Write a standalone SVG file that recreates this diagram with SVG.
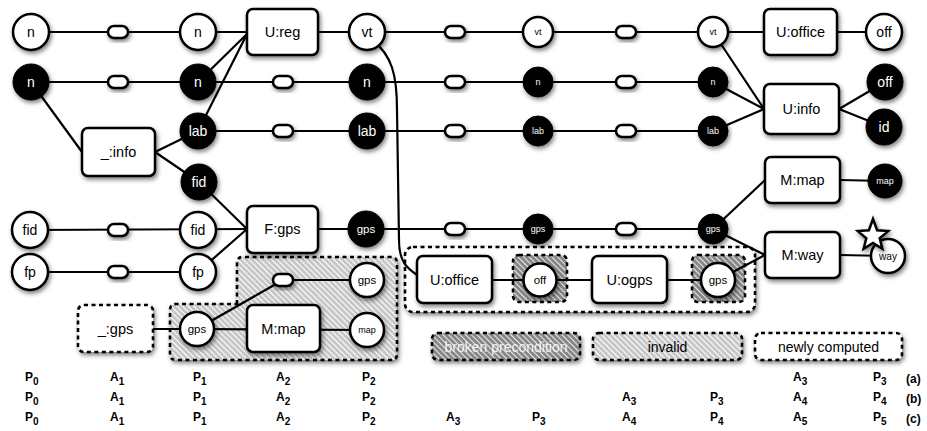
<svg xmlns="http://www.w3.org/2000/svg" width="927" height="431" viewBox="0 0 927 431">
<style>
.ln{stroke:#000;stroke-width:2.2;fill:none}
.box{fill:#fff;stroke:#000;stroke-width:2.5}
.cw{fill:#fff;stroke:#000;stroke-width:2.5}
.cb{fill:#000;stroke:#000;stroke-width:1}
.pill{fill:#fff;stroke:#000;stroke-width:2.5}
.sh{filter:url(#sh)}
.dash{stroke:#000;stroke-width:2.6;stroke-dasharray:4 3.5}
text{font-family:"Liberation Sans",Arial,Helvetica,sans-serif;text-anchor:middle;dominant-baseline:central;fill:#000}
.w{fill:#fff}
.b14{font-size:14.5px}
.lg{font-size:14px}
.c13{font-size:14px}
.c11{font-size:11.5px}
.c9{font-size:9px}
.tb{font-weight:bold;font-size:12px;text-anchor:start;dominant-baseline:alphabetic}
.sub{font-size:10px}
</style>
<defs>
<filter id="sh" x="-30%" y="-30%" width="170%" height="170%">
<feDropShadow dx="1.5" dy="2.5" stdDeviation="2.2" flood-color="#000" flood-opacity="0.5"/>
</filter>
<pattern id="hl" patternUnits="userSpaceOnUse" width="4" height="4" patternTransform="rotate(-45)">
<rect width="4" height="4" fill="#c6c6c6"/>
<rect width="1.1" height="4" fill="#fff"/>
</pattern>
<pattern id="hd" patternUnits="userSpaceOnUse" width="4" height="4" patternTransform="rotate(-45)">
<rect width="4" height="4" fill="#858585"/>
<rect width="1.1" height="4" fill="#e8e8e8"/>
</pattern>
</defs>
<rect width="927" height="431" fill="#fff"/>

<g id="regions">
<path id="invalid-region" class="dash sh" fill="url(#hl)" d="M237,304 V263 Q237,257 243,257 H391 Q397,257 397,263 V354 Q397,360 391,360 H176 Q170,360 170,354 V310 Q170,304 176,304 Z"/>
<rect id="new-group" class="dash sh" x="405" y="247" width="350" height="65" rx="8" fill="#fff"/>
<rect id="broken-off" class="dash" x="513" y="255" width="54" height="47" rx="6" fill="url(#hd)"/>
<rect id="broken-gps" class="dash" x="692" y="255" width="53" height="47" rx="6" fill="url(#hd)"/>
</g>

<g id="connectors">
<line class="ln" x1="31" y1="32" x2="198" y2="32"/>
<line class="ln" x1="198" y1="32" x2="247" y2="32"/>
<line class="ln" x1="198" y1="82" x2="247" y2="34"/>
<line class="ln" x1="198" y1="131" x2="247" y2="34"/>
<line class="ln" x1="318" y1="32" x2="838" y2="32"/>
<line class="ln" x1="838" y1="32" x2="884" y2="32"/>
<line class="ln" x1="713" y1="32" x2="764" y2="109"/>
<line class="ln" x1="713" y1="82" x2="764" y2="109"/>
<line class="ln" x1="713" y1="131" x2="764" y2="109"/>
<line class="ln" x1="839" y1="109" x2="885" y2="82"/>
<line class="ln" x1="839" y1="109" x2="884" y2="127"/>
<line class="ln" x1="31" y1="82" x2="713" y2="82"/>
<line class="ln" x1="31" y1="82" x2="82" y2="152"/>
<line class="ln" x1="155" y1="152" x2="198" y2="131"/>
<line class="ln" x1="155" y1="152" x2="199" y2="182"/>
<line class="ln" x1="198" y1="131" x2="713" y2="131"/>
<line class="ln" x1="199" y1="182" x2="247" y2="229"/>
<line class="ln" x1="30" y1="230" x2="247" y2="229"/>
<line class="ln" x1="30" y1="272" x2="198" y2="272"/>
<line class="ln" x1="198" y1="272" x2="247" y2="229"/>
<line class="ln" x1="318" y1="229" x2="713" y2="229"/>
<line class="ln" x1="713" y1="229" x2="765" y2="180"/>
<line class="ln" x1="713" y1="229" x2="765" y2="255"/>
<line class="ln" x1="840" y1="180" x2="885" y2="181"/>
<line class="ln" x1="840" y1="255" x2="888" y2="256"/>
<path class="ln" d="M372,40 C392,55 397,75 397,110 L399,240 C399,262 407,268 417,275"/>
<line class="ln" x1="153" y1="329" x2="197" y2="329"/>
<line class="ln" x1="197" y1="329" x2="283" y2="280"/>
<line class="ln" x1="283" y1="280" x2="367" y2="280"/>
<line class="ln" x1="197" y1="329" x2="367" y2="330"/>
<line class="ln" x1="492" y1="280" x2="592" y2="280"/>
<line class="ln" x1="667" y1="280" x2="718" y2="280"/>
<line class="ln" x1="718" y1="280" x2="765" y2="255"/>
</g>

<g id="pills">
<rect class="pill sh" x="108" y="26" width="20" height="12" rx="6"/>
<rect class="pill sh" x="445" y="26" width="20" height="12" rx="6"/>
<rect class="pill sh" x="616" y="26" width="20" height="12" rx="6"/>
<rect class="pill sh" x="108" y="76" width="20" height="12" rx="6"/>
<rect class="pill sh" x="273" y="76" width="20" height="12" rx="6"/>
<rect class="pill sh" x="445" y="76" width="20" height="12" rx="6"/>
<rect class="pill sh" x="616" y="76" width="20" height="12" rx="6"/>
<rect class="pill sh" x="273" y="125" width="20" height="12" rx="6"/>
<rect class="pill sh" x="445" y="125" width="20" height="12" rx="6"/>
<rect class="pill sh" x="616" y="125" width="20" height="12" rx="6"/>
<rect class="pill sh" x="108" y="224" width="20" height="12" rx="6"/>
<rect class="pill sh" x="445" y="223" width="20" height="12" rx="6"/>
<rect class="pill sh" x="616" y="223" width="20" height="12" rx="6"/>
<rect class="pill sh" x="108" y="266" width="20" height="12" rx="6"/>
<rect class="pill sh" x="273" y="274" width="20" height="12" rx="6"/>
</g>

<g id="n-w0"><circle class="cw sh" cx="31" cy="32" r="18"/><text class="c13" x="31" y="32">n</text></g>
<g id="n-w1"><circle class="cw sh" cx="198" cy="32" r="18"/><text class="c13" x="198" y="32">n</text></g>
<g id="ureg"><rect class="box sh" x="247" y="9" width="71" height="46" rx="6"/><text class="b14" x="282.5" y="32">U:reg</text></g>
<g id="vt-2"><circle class="cw sh" cx="367" cy="32" r="18"/><text class="c13" x="367" y="32">vt</text></g>
<g id="vt-3"><circle class="cw sh" cx="538" cy="32" r="15"/><text class="c9" x="538" y="32">vt</text></g>
<g id="vt-4"><circle class="cw sh" cx="713" cy="32" r="15"/><text class="c9" x="713" y="32">vt</text></g>
<g id="uoffice"><rect class="box sh" x="764" y="9" width="73" height="46" rx="6"/><text class="b14" x="800.5" y="32">U:office</text></g>
<g id="off-w"><circle class="cw sh" cx="884" cy="32" r="18"/><text class="c13" x="884" y="32">off</text></g>

<g id="n-b0"><circle class="cb sh" cx="31" cy="82" r="18"/><text class="c13 w" x="31" y="82">n</text></g>
<g id="n-b1"><circle class="cb sh" cx="198" cy="82" r="18"/><text class="c13 w" x="198" y="82">n</text></g>
<g id="n-b2"><circle class="cb sh" cx="367" cy="82" r="18"/><text class="c13 w" x="367" y="82">n</text></g>
<g id="n-b3"><circle class="cb sh" cx="538" cy="82" r="15"/><text class="c9 w" x="538" y="82">n</text></g>
<g id="n-b4"><circle class="cb sh" cx="713" cy="82" r="15"/><text class="c9 w" x="713" y="82">n</text></g>
<g id="uinfo"><rect class="box sh" x="764" y="84" width="75" height="50" rx="6"/><text class="b14" x="801.5" y="109">U:info</text></g>
<g id="off-b"><circle class="cb sh" cx="885" cy="82" r="18"/><text class="c13 w" x="885" y="82">off</text></g>
<g id="id-b"><circle class="cb sh" cx="884" cy="127" r="18"/><text class="c13 w" x="884" y="127">id</text></g>

<g id="info"><rect class="box sh" x="82" y="128" width="73" height="48" rx="6"/><text class="b14" x="118.5" y="152">_:info</text></g>
<g id="lab-1"><circle class="cb sh" cx="198" cy="131" r="18"/><text class="c13 w" x="198" y="131">lab</text></g>
<g id="lab-2"><circle class="cb sh" cx="367" cy="131" r="18"/><text class="c13 w" x="367" y="131">lab</text></g>
<g id="lab-3"><circle class="cb sh" cx="538" cy="131" r="15"/><text class="c9 w" x="538" y="131">lab</text></g>
<g id="lab-4"><circle class="cb sh" cx="713" cy="131" r="15"/><text class="c9 w" x="713" y="131">lab</text></g>
<g id="fid-b"><circle class="cb sh" cx="199" cy="182" r="18"/><text class="c13 w" x="199" y="182">fid</text></g>

<g id="mmap"><rect class="box sh" x="765" y="157" width="75" height="46" rx="6"/><text class="b14" x="802.5" y="180">M:map</text></g>
<g id="map-b"><circle class="cb sh" cx="885" cy="181" r="17"/><text class="c9 w" x="885" y="181">map</text></g>

<g id="fid-w0"><circle class="cw sh" cx="30" cy="230" r="18"/><text class="c13" x="30" y="230">fid</text></g>
<g id="fid-w1"><circle class="cw sh" cx="198" cy="230" r="18"/><text class="c13" x="198" y="230">fid</text></g>
<g id="fgps"><rect class="box sh" x="247" y="206" width="71" height="47" rx="6"/><text class="b14" x="282.5" y="229">F:gps</text></g>
<g id="gps-2"><circle class="cb sh" cx="366" cy="229" r="18"/><text class="c11 w" x="366" y="229">gps</text></g>
<g id="gps-3"><circle class="cb sh" cx="538" cy="229" r="15"/><text class="c9 w" x="538" y="229">gps</text></g>
<g id="gps-4"><circle class="cb sh" cx="713" cy="229" r="15"/><text class="c9 w" x="713" y="229">gps</text></g>
<g id="mway"><rect class="box sh" x="765" y="232" width="75" height="46" rx="6"/><text class="b14" x="802.5" y="255">M:way</text></g>
<g id="way"><circle class="cw sh" cx="888" cy="256" r="17"/><text style="font-size:10px" x="888" y="256">way</text>
<polygon class="cw sh" points="873,219 877.1,230.3 888.2,231.1 879.7,238.2 882.4,248.9 873,243 863.6,248.9 866.3,238.2 857.8,231.1 868.9,230.3"/></g>

<g id="fp-0"><circle class="cw sh" cx="30" cy="272" r="18"/><text class="c13" x="30" y="272">fp</text></g>
<g id="fp-1"><circle class="cw sh" cx="198" cy="272" r="18"/><text class="c13" x="198" y="272">fp</text></g>

<g id="gps-inv-r"><circle class="cw sh" cx="367" cy="280" r="17"/><text class="c11" x="367" y="280">gps</text></g>
<g id="gps-inv-l"><circle class="cw sh" cx="197" cy="329" r="17"/><text class="c11" x="197" y="329">gps</text></g>
<g id="mmap-inv"><rect class="box sh" x="247" y="305" width="73" height="47" rx="6"/><text class="b14" x="283.5" y="329">M:map</text></g>
<g id="map-inv"><circle class="cw sh" cx="367" cy="330" r="17"/><text class="c9" x="367" y="330">map</text></g>
<g id="gps-new"><rect class="box dash sh" x="78" y="305" width="75" height="47" rx="6"/><text class="b14" x="115.5" y="329">_:gps</text></g>

<g id="uoffice-new"><rect class="box sh" x="417" y="256" width="75" height="47" rx="6"/><text class="b14" x="454.5" y="280">U:office</text></g>
<g id="off-new"><circle class="cw sh" cx="540" cy="280" r="16.5"/><text class="c11" x="540" y="280">off</text></g>
<g id="uogps"><rect class="box sh" x="592" y="256" width="75" height="47" rx="6"/><text class="b14" x="629.5" y="280">U:ogps</text></g>
<g id="gps-new2"><circle class="cw sh" cx="718" cy="280" r="17"/><text class="c11" x="718" y="280">gps</text></g>

<g id="legend">
<rect class="dash sh" x="432" y="333" width="148" height="27" rx="6" fill="url(#hd)"/>
<text class="lg" x="506" y="347" style="fill:#f4f4f4">broken precondition</text>
<rect class="dash sh" x="593" y="333" width="149" height="27" rx="6" fill="url(#hl)"/>
<text class="lg" x="667.5" y="347">invalid</text>
<rect class="dash sh" x="755" y="333" width="147" height="27" rx="6" fill="#fff"/>
<text class="lg" x="828.5" y="347">newly computed</text>
</g>

<g id="table">
<text class="tb" x="25" y="381">P<tspan class="sub" dy="4">0</tspan></text>
<text class="tb" x="110" y="381">A<tspan class="sub" dy="4">1</tspan></text>
<text class="tb" x="193" y="381">P<tspan class="sub" dy="4">1</tspan></text>
<text class="tb" x="276" y="381">A<tspan class="sub" dy="4">2</tspan></text>
<text class="tb" x="362" y="381">P<tspan class="sub" dy="4">2</tspan></text>
<text class="tb" x="793" y="381">A<tspan class="sub" dy="4">3</tspan></text>
<text class="tb" x="873" y="381">P<tspan class="sub" dy="4">3</tspan></text>
<text class="tb" x="906" y="383">(a)</text>

<text class="tb" x="25" y="401">P<tspan class="sub" dy="4">0</tspan></text>
<text class="tb" x="110" y="401">A<tspan class="sub" dy="4">1</tspan></text>
<text class="tb" x="193" y="401">P<tspan class="sub" dy="4">1</tspan></text>
<text class="tb" x="276" y="401">A<tspan class="sub" dy="4">2</tspan></text>
<text class="tb" x="362" y="401">P<tspan class="sub" dy="4">2</tspan></text>
<text class="tb" x="622" y="401">A<tspan class="sub" dy="4">3</tspan></text>
<text class="tb" x="710" y="401">P<tspan class="sub" dy="4">3</tspan></text>
<text class="tb" x="793" y="401">A<tspan class="sub" dy="4">4</tspan></text>
<text class="tb" x="873" y="401">P<tspan class="sub" dy="4">4</tspan></text>
<text class="tb" x="906" y="403">(b)</text>

<text class="tb" x="25" y="421">P<tspan class="sub" dy="4">0</tspan></text>
<text class="tb" x="110" y="421">A<tspan class="sub" dy="4">1</tspan></text>
<text class="tb" x="193" y="421">P<tspan class="sub" dy="4">1</tspan></text>
<text class="tb" x="276" y="421">A<tspan class="sub" dy="4">2</tspan></text>
<text class="tb" x="362" y="421">P<tspan class="sub" dy="4">2</tspan></text>
<text class="tb" x="446" y="421">A<tspan class="sub" dy="4">3</tspan></text>
<text class="tb" x="532" y="421">P<tspan class="sub" dy="4">3</tspan></text>
<text class="tb" x="622" y="421">A<tspan class="sub" dy="4">4</tspan></text>
<text class="tb" x="710" y="421">P<tspan class="sub" dy="4">4</tspan></text>
<text class="tb" x="793" y="421">A<tspan class="sub" dy="4">5</tspan></text>
<text class="tb" x="873" y="421">P<tspan class="sub" dy="4">5</tspan></text>
<text class="tb" x="906" y="423">(c)</text>
</g>
</svg>
